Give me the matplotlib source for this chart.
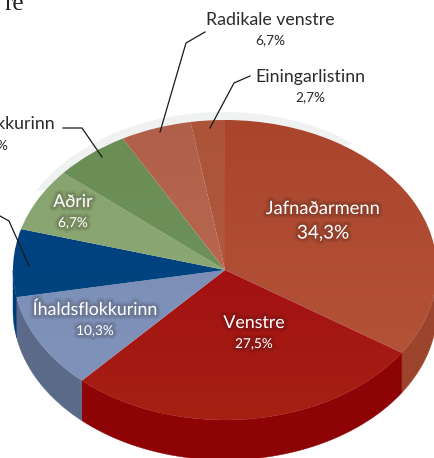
#!/usr/bin/env python3
"""Tilted pie chart of party shares, with a drawn side wall"""

import numpy as np
import matplotlib
matplotlib.use("Agg")
import matplotlib.pyplot as plt
import matplotlib.patheffects as pe
from matplotlib.colors import LinearSegmentedColormap

# slice sizes as they are drawn, clockwise from the top
parties = ["Jafnaðarmenn", "Venstre", "Íhaldsflokkurinn", "Blue", "Aðrir",
           "Þjóðarflokkurinn", "Radikale venstre", "Einingarlistinn"]
shares = [34.3, 27.5, 10.3, 7.3, 6.8, 5.8, 5.4, 2.6]

# top surface colours, upper and lower end of the gradient
colors_top = ["#a9452c", "#a00210", "#7a8cb4", "#00417f", "#86a26d", "#6a8d55", "#b0604a", "#ac5339"]
colors_low = ["#b7563c", "#a62014", "#8093bb", "#00457f", "#8fab78", "#719560", "#c06c52", "#b56045"]
colors_side = ["#9c452c", "#8e0306", "#5c6a8a", "#003d78", "#7f9a68", "#638650", "#a85a42", "#a04e36"]

# picture geometry in pixels
W, H = 434, 458
CX, CY = 225, 270
RX, RY = 212, 150
DEPTH = 40

plt.rcParams["font.family"] = ["Lato", "DejaVu Sans"]

fig = plt.figure(figsize=(W / 100, H / 100), dpi=100)
ax = fig.add_axes([0, 0, 1, 1])

# pale shadow behind the top edge
t = np.radians(np.linspace(-62, 38, 100))
ax.fill(np.sin(t) - 2 / RX, np.cos(t) + 8 / RY, color="#f0f1f1", lw=0, zorder=0)

# side wall, only the part of each slice on the lower half
dep = DEPTH / RY
start = 0
for share, side in zip(shares, colors_side):
    end = start + share
    a0 = max(start * 3.6, 90)
    a1 = min(end * 3.6, 270)
    if a1 > a0:
        t = np.radians(np.linspace(a0, a1, 80))
        xs = np.sin(t)
        ys = np.cos(t)
        ax.fill(np.r_[xs, xs[::-1]], np.r_[ys, ys[::-1] - dep], color=side, lw=0.3, zorder=1)
    start = end

# top surface
wedges, _ = ax.pie(shares, startangle=90, counterclock=False, radius=1, center=(0, 0))

ax.set_aspect("auto")
xlim = (-CX / RX, (W - CX) / RX)
ylim = ((CY - H) / RY, CY / RY)

for wedge, c_top, c_low in zip(wedges, colors_top, colors_low):
    wedge.set_facecolor("none")
    wedge.set_edgecolor("none")
    wedge.set_zorder(2)
    cmap = LinearSegmentedColormap.from_list("g", [c_top, c_low])
    im = ax.imshow(np.linspace(0, 1, 256).reshape(-1, 1), cmap=cmap, aspect="auto",
                   extent=(-1, 1, -1, 1), origin="upper", zorder=2)
    im.set_clip_path(wedge)

ax.set_xlim(*xlim)
ax.set_ylim(*ylim)
ax.axis("off")

# labels and leader lines sit on a pixel overlay
over = fig.add_axes([0, 0, 1, 1])
over.set_xlim(0, W)
over.set_ylim(H, 0)
over.axis("off")
over.patch.set_alpha(0)

leaders = [
    ([205, 186, 160], [32, 43, 132]),
    ([250, 234, 210], [76, 83, 128]),
    ([63, 82, 102], [128, 128, 157]),
    ([0, 9, 29], [216, 221, 266]),
]
for xs, ys in leaders:
    over.plot(xs, ys, color="#1a1a1a", lw=0.9, solid_joinstyle="miter", zorder=3)

shade = (0.15, 0.08, 0.08)
glow = [pe.Stroke(linewidth=6, foreground=shade, alpha=0.07),
        pe.Stroke(linewidth=3.5, foreground=shade, alpha=0.12),
        pe.Normal()]


def label(x, y, text, size, color="#2a2a2a", ha="center", shadow=False):
    t = over.text(x, y, text, fontsize=size, color=color, ha=ha, va="center", zorder=4)
    if shadow:
        t.set_path_effects(glow)


label(270, 20, "Radikale venstre", 12.8)
label(270, 40, "6,7%", 9.8)
label(310, 77, "Einingarlistinn", 12.8)
label(310, 97, "2,7%", 9.8)
label(55, 124, "Þjóðarflokkurinn", 12.8, ha="right")
label(8, 145, "5,8%", 9.8, ha="right")

label(323, 209, "Jafnaðarmenn", 13.2, "white", shadow=True)
label(323, 233, "34,3%", 13.6, "white", shadow=True)
label(254, 323, "Venstre", 12.8, "white", shadow=True)
label(254, 344, "27,5%", 9.8, "white", shadow=True)
label(95, 310, "Íhaldsflokkurinn", 12.8, "white", shadow=True)
label(95, 331, "10,3%", 9.8, "white", shadow=True)
label(73, 202, "Aðrir", 12.8, "white", shadow=True)
label(73, 223, "6,7%", 9.8, "white", shadow=True)

# end of the headline that runs in from the left
over.text(24, 10, "re", fontsize=18, family="Liberation Serif", color="#222222", ha="right", va="baseline")

fig.savefig("out.png", dpi=100)
